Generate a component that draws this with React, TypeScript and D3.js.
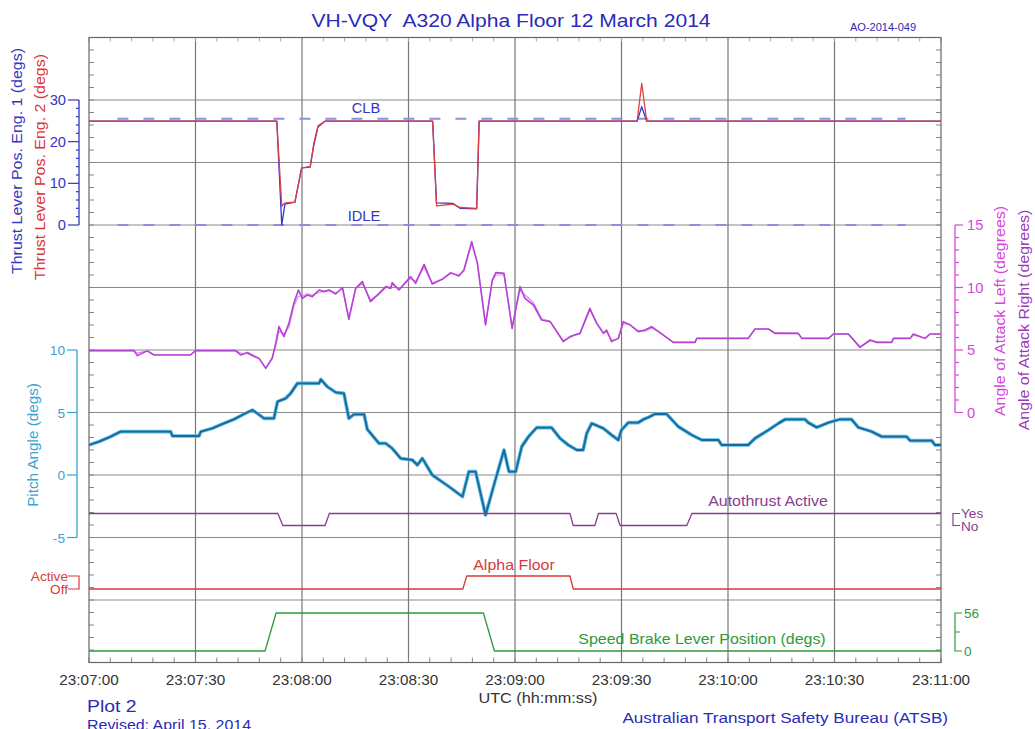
import React, { useRef, useEffect } from "react";
import * as d3 from "d3";

// seconds after 23:07:00
const thrustTime = [0, 52.9, 54.3, 55.2, 58, 59.9, 62.3, 63.3, 64.5, 66.5, 96.8, 97.9, 102.5, 104.5, 109.2, 109.9, 154.4, 155.7, 157.1, 240];
const thrustEng1 = [24.9, 24.9, 0, 5, 5.5, 13.7, 13.9, 19, 23.5, 24.9, 24.9, 5.3, 5.2, 4.0, 3.9, 24.9, 24.9, 28.4, 24.9, 24.9];
const thrustEng2 = [24.9, 24.9, 4.5, 5.3, 5.5, 13.7, 14.0, 19.5, 23.8, 24.9, 24.9, 4.6, 5.0, 4.2, 4.0, 24.9, 24.9, 34, 24.9, 24.9];
const clbLevel = 25.5;
const idleLevel = 0;

const aoaTime = [0, 12.7, 13.6, 16.4, 18.3, 28.6, 30, 41.3, 42.7, 44.6, 46.5, 47.9, 49.8, 51.6, 52.6, 53.5, 54.9, 56.3, 57.7, 59, 60.1, 61.5, 62.9, 64.8, 66.2, 67.6, 69.5, 71.4, 73.2, 75.1, 77, 79.3, 81.7, 83.6, 85, 85.4, 87.3, 90.6, 92, 94.4, 96.7, 99.5, 101.9, 104.2, 105.6, 107.8, 109.4, 111.7, 113.6, 114.6, 116.9, 119.2, 121.4, 122.8, 125.2, 127.5, 129.9, 133.6, 135.5, 136.9, 138.3, 141.1, 143, 144.9, 145.8, 147.2, 149.1, 150.5, 152.4, 154.7, 156.6, 158.5, 160.4, 164.6, 170.7, 171.2, 180.1, 185.7, 187.6, 191.4, 193.2, 199.8, 200.8, 208.3, 209.7, 213.9, 217.2, 220, 221.9, 226.1, 226.6, 231.3, 232.2, 235.5, 236.9, 240];
const aoaLeft = [4.95, 4.95, 4.55, 4.93, 4.6, 4.6, 4.95, 4.95, 4.6, 4.8, 4.52, 4.33, 3.53, 4.33, 5.53, 6.87, 6.07, 7.13, 8.73, 9.8, 9.13, 9.4, 9.27, 9.8, 9.67, 9.8, 9.48, 10.0, 7.45, 9.93, 10.47, 8.87, 9.53, 10.07, 9.93, 10.39, 9.8, 10.87, 10.33, 11.85, 10.28, 10.65, 11.19, 10.92, 11.4, 13.67, 11.93, 7.0, 10.6, 11.19, 11.13, 6.73, 10.07, 9.13, 8.6, 7.4, 7.27, 5.67, 6.07, 6.2, 6.33, 8.33, 7.13, 6.33, 6.6, 5.67, 5.93, 7.27, 7.0, 6.47, 6.6, 6.87, 6.47, 5.61, 5.61, 5.93, 5.93, 5.93, 6.68, 6.68, 6.33, 6.33, 5.93, 5.93, 6.28, 6.28, 5.21, 5.8, 5.61, 5.61, 5.93, 5.93, 6.28, 5.93, 6.28, 6.28];
const aoaRight = [4.95, 4.95, 4.75, 4.93, 4.62, 4.62, 4.95, 4.95, 4.75, 4.7, 4.45, 4.3, 3.6, 4.4, 5.3, 6.5, 6.3, 6.8, 8.5, 9.3, 9.3, 9.5, 9.4, 9.6, 9.7, 9.75, 9.55, 9.9, 7.6, 9.9, 10.3, 9.0, 9.45, 10.0, 10.05, 10.25, 9.9, 10.7, 10.5, 11.6, 10.35, 10.7, 11.1, 11.0, 11.3, 13.5, 12.0, 7.1, 10.5, 11.0, 11.0, 6.9, 9.8, 9.4, 8.8, 7.5, 7.3, 5.75, 6.0, 6.25, 6.3, 8.2, 7.2, 6.4, 6.45, 5.8, 5.9, 7.1, 7.05, 6.55, 6.5, 6.75, 6.5, 5.61, 5.61, 5.93, 5.93, 5.93, 6.68, 6.68, 6.4, 6.33, 5.93, 5.93, 6.28, 6.28, 5.25, 5.75, 5.65, 5.61, 5.93, 5.93, 6.2, 5.93, 6.28, 6.28];

const pitchTime = [0, 2.8, 6.1, 8.9, 23, 23.5, 31, 31.5, 34.7, 38, 40.8, 43.7, 46, 47.4, 49.3, 52.1, 53.1, 55.4, 56.8, 58.7, 64.8, 65.3, 67.1, 69.5, 71.8, 73.2, 74.6, 77.5, 78.4, 81.7, 83.6, 85.4, 87.8, 91.1, 92.5, 93.9, 96.7, 101.4, 105.2, 107, 108.9, 111.7, 114.6, 116.9, 118.3, 120.2, 121.9, 123.8, 126.1, 130.3, 132.7, 135, 137.4, 139.2, 140.2, 141.6, 144.9, 147.2, 149.1, 150, 151.9, 154.7, 156.2, 158, 159.4, 162.7, 166, 169.8, 172.6, 177.3, 178.2, 185.7, 187.6, 191.4, 194.2, 196.1, 201.7, 202.6, 205, 208.3, 211.5, 214.8, 216.7, 220.5, 223.3, 230.3, 231.3, 237.4, 238.3, 240];
const pitchVal = [2.4, 2.67, 3.07, 3.47, 3.47, 3.12, 3.12, 3.47, 3.73, 4.13, 4.45, 4.88, 5.2, 4.93, 4.53, 4.53, 5.87, 6.13, 6.53, 7.33, 7.33, 7.65, 7.07, 6.61, 6.53, 4.53, 4.85, 4.85, 3.65, 2.53, 2.53, 2.13, 1.33, 1.2, 0.8, 1.33, 0, -0.93, -1.73, 0.27, 0.27, -3.2, -0.27, 2.0, 0.27, 0.27, 2.27, 3.07, 3.79, 3.79, 2.93, 2.4, 2.0, 2.0, 3.33, 4.13, 3.73, 3.2, 2.8, 3.6, 4.19, 4.19, 4.45, 4.67, 4.88, 4.88, 3.87, 3.2, 2.8, 2.8, 2.4, 2.4, 2.93, 3.6, 4.13, 4.45, 4.45, 4.19, 3.81, 4.19, 4.45, 4.45, 3.81, 3.47, 3.07, 3.07, 2.75, 2.75, 2.4, 2.4];

// 1 = Yes, 0 = No
const atTime = [0, 53.2, 54.6, 66.5, 67.7, 135.5, 136.4, 142.5, 143.5, 148.5, 149.6, 168.4, 169.8, 240];
const atState = [1, 1, 0, 0, 1, 1, 0, 0, 1, 1, 0, 0, 1, 1];

// 1 = Active, 0 = Off
const afTime = [0, 105.3, 106.4, 135.5, 136.4, 240];
const afState = [0, 0, 1, 1, 0, 0];

const sbTime = [0, 49.6, 52.7, 111.1, 114.2, 240];
const sbVal = [0, 0, 56, 56, 0, 0];

const timeTicks = [0, 30, 60, 90, 120, 150, 180, 210, 240];
const timeLabels = ["23:07:00", "23:07:30", "23:08:00", "23:08:30", "23:09:00", "23:09:30", "23:10:00", "23:10:30", "23:11:00"];
const thrustTicks = [0, 10, 20, 30];
const aoaTicks = [0, 5, 10, 15];
const pitchTicks = [-5, 0, 5, 10];

const FONT = "'Liberation Sans', Arial, sans-serif";

const App = () => {
  const svgRef = useRef<SVGSVGElement>(null);

  useEffect(() => {
    const svg = d3.select(svgRef.current);
    svg.selectAll("*").remove();

    const left = 89, right = 941, top = 37.5, bottom = 662.5;

    const x = d3.scaleLinear().domain([0, 240]).range([left, right]);
    const yGrid = d3.scaleLinear().domain([0, 10]).range([top, bottom]);
    const yThrust = d3.scaleLinear().domain([0, 30]).range([225, 100]);
    const yAoa = d3.scaleLinear().domain([0, 15]).range([412.5, 225]);
    const yPitch = d3.scaleLinear().domain([-5, 10]).range([537.5, 350]);
    const yAt = d3.scaleLinear().domain([0, 1]).range([525.5, 513.5]);
    const yAf = d3.scaleLinear().domain([0, 1]).range([589, 576]);
    const ySb = d3.scaleLinear().domain([0, 56]).range([651, 613]);

    svg.append("rect").attr("width", 1035).attr("height", 729).attr("fill", "#fff");

    // grid
    const grid = svg.append("g");
    d3.range(1, 10).forEach((i) => {
      grid.append("line").attr("x1", left).attr("x2", right)
        .attr("y1", yGrid(i)).attr("y2", yGrid(i))
        .attr("stroke", "#8a8a8a").attr("stroke-width", 1.2);
    });
    timeTicks.slice(1, -1).forEach((t) => {
      grid.append("line").attr("x1", x(t)).attr("x2", x(t))
        .attr("y1", top).attr("y2", bottom)
        .attr("stroke", "#777").attr("stroke-width", 1.2);
    });

    // frame minor ticks
    d3.range(0, 241, 6).forEach((t) => {
      grid.append("line").attr("x1", x(t)).attr("x2", x(t)).attr("y1", bottom).attr("y2", bottom - 5).attr("stroke", "#888");
      grid.append("line").attr("x1", x(t)).attr("x2", x(t)).attr("y1", top).attr("y2", top + 4).attr("stroke", "#aaa");
    });
    d3.range(0, 10.01, 0.2).forEach((g) => {
      grid.append("line").attr("x1", left).attr("x2", left + 5).attr("y1", yGrid(g)).attr("y2", yGrid(g)).attr("stroke", "#888");
      grid.append("line").attr("x1", right).attr("x2", right - 5).attr("y1", yGrid(g)).attr("y2", yGrid(g)).attr("stroke", "#888");
    });
    grid.append("rect").attr("x", left).attr("y", top).attr("width", right - left).attr("height", bottom - top)
      .attr("fill", "none").attr("stroke", "#666").attr("stroke-width", 1.2);

    const plot = (tArr: number[], vArr: number[], yS: any, color: string, w: number) => {
      const line = d3.line<number>().x((_, i) => x(tArr[i])).y((d) => yS(d));
      svg.append("path").attr("d", line(vArr)).attr("fill", "none")
        .attr("stroke", color).attr("stroke-width", w).attr("stroke-linejoin", "round");
    };

    // CLB / IDLE reference dashes
    [clbLevel, idleLevel].forEach((lv) => {
      svg.append("line").attr("x1", x(8)).attr("x2", x(230)).attr("y1", yThrust(lv)).attr("y2", yThrust(lv))
        .attr("stroke", "#8f8fe0").attr("stroke-width", 1.8).attr("stroke-dasharray", "11,15");
    });

    // thrust
    plot(thrustTime, thrustEng1, yThrust, "#3434d0", 1.3);
    plot(thrustTime, thrustEng2, yThrust, "#e04040", 1.3);

    // angle of attack
    plot(aoaTime, aoaRight, yAoa, "#e488f2", 1.2);
    plot(aoaTime, aoaLeft, yAoa, "#b442d2", 1.6);

    // pitch
    plot(pitchTime, pitchVal, yPitch, "#5ab8e2", 3.6);
    plot(pitchTime, pitchVal, yPitch, "#17699c", 1.8);

    // discrete traces
    plot(atTime, atState, yAt, "#8a3d8f", 1.3);
    plot(afTime, afState, yAf, "#d63a3a", 1.3);
    plot(sbTime, sbVal, ySb, "#2c9a3c", 1.3);

    // text, stretched a little along its baseline to match the reference lettering
    const text = (s: string, tx: number, ty: number, color: string, size: number, anchor = "start", rot = 0, sx = 1.14) => {
      return svg.append("text").attr("x", 0).attr("y", 0).attr("fill", color)
        .attr("font-size", size).attr("font-family", FONT).attr("text-anchor", anchor)
        .attr("transform", `translate(${tx},${ty}) rotate(${rot}) scale(${sx},1)`)
        .style("white-space", "pre").text(s);
    };

    // thrust axis (left)
    const blue = "#3535c0";
    svg.append("line").attr("x1", 79).attr("x2", 79).attr("y1", yThrust(30)).attr("y2", yThrust(0)).attr("stroke", blue).attr("stroke-width", 1.3);
    d3.range(0, 31, 2).forEach((v) => {
      const major = v % 10 === 0;
      svg.append("line").attr("x1", major ? 68 : 76).attr("x2", 79).attr("y1", yThrust(v)).attr("y2", yThrust(v)).attr("stroke", blue).attr("stroke-width", 1.2);
    });
    thrustTicks.forEach((v) => text(String(v), 66, yThrust(v) + 5, blue, 14, "end", 0, 1.05));
    text("Thrust Lever Pos. Eng. 1 (degs)", 22, 161, blue, 14, "middle", -90);
    text("Thrust Lever Pos. Eng. 2 (degs)", 45, 167, "#dd3333", 14, "middle", -90);

    // pitch axis (left)
    const pBlue = "#3aa3d3";
    svg.append("line").attr("x1", 77).attr("x2", 77).attr("y1", yPitch(10)).attr("y2", yPitch(-5)).attr("stroke", pBlue).attr("stroke-width", 1.3);
    pitchTicks.forEach((v) => {
      svg.append("line").attr("x1", 67).attr("x2", 77).attr("y1", yPitch(v)).attr("y2", yPitch(v)).attr("stroke", pBlue).attr("stroke-width", 1.2);
      text(String(v), 65, yPitch(v) + 5, pBlue, 13, "end", 0, 1.05);
    });
    text("Pitch Angle (degs)", 38, 445, pBlue, 14, "middle", -90, 1.09);

    // AOA axis (right)
    const mag = "#d546dc";
    svg.append("line").attr("x1", 955).attr("x2", 955).attr("y1", yAoa(15)).attr("y2", yAoa(0)).attr("stroke", mag).attr("stroke-width", 1.3);
    d3.range(0, 16).forEach((v) => {
      const major = v % 5 === 0;
      svg.append("line").attr("x1", 955).attr("x2", major ? 963 : 959).attr("y1", yAoa(v)).attr("y2", yAoa(v)).attr("stroke", mag).attr("stroke-width", 1.2);
    });
    aoaTicks.forEach((v) => text(String(v), 967, yAoa(v) + 5, mag, 14, "start", 0, 1.05));
    text("Angle of Attack Left (degrees)", 1005, 311, mag, 14, "middle", -90);
    text("Angle of Attack Right (degrees)", 1029, 320, "#9a3ab8", 14, "middle", -90);

    // autothrust bracket
    const purp = "#8a3d8f";
    svg.append("path").attr("d", `M960,${yAt(1)}H953V${yAt(0)}H960`).attr("fill", "none").attr("stroke", purp).attr("stroke-width", 1.2);
    text("Yes", 961, yAt(1) + 4, purp, 13, "start", 0, 1.05);
    text("No", 961, yAt(0) + 5, purp, 13, "start", 0, 1.05);
    text("Autothrust Active", 768, 506, purp, 14, "middle");

    // alpha floor bracket
    const red = "#d63a3a";
    svg.append("path").attr("d", `M68,${yAf(1)}H79V${yAf(0)}H68`).attr("fill", "none").attr("stroke", red).attr("stroke-width", 1.2);
    text("Active", 68, yAf(1) + 5, red, 13, "end", 0, 1.05);
    text("Off", 68, yAf(0) + 5, red, 13, "end", 0, 1.05);
    text("Alpha Floor", 514, 570, red, 14, "middle");

    // speed brake bracket
    const green = "#2c9a3c";
    svg.append("path").attr("d", `M962,${ySb(56)}H955V${ySb(0)}H962M955,${ySb(28)}H960`).attr("fill", "none").attr("stroke", green).attr("stroke-width", 1.2);
    text("56", 964, ySb(56) + 5, green, 13, "start", 0, 1.05);
    text("0", 964, ySb(0) + 5, green, 13, "start", 0, 1.05);
    text("Speed Brake Lever Position (degs)", 702, 644, green, 14, "middle");

    // CLB / IDLE labels
    text("CLB", 366, 113, "#3535c0", 14, "middle", 0, 1.05);
    text("IDLE", 364, 221, "#3535c0", 14, "middle", 0, 1.05);

    // time axis labels
    timeTicks.forEach((t, i) => text(timeLabels[i], x(t), 685, "#333", 14, "middle", 0, 1.09));
    text("UTC (hh:mm:ss)", 538, 703, "#333", 14, "middle", 0, 1.16);

    // titles and footers
    text("VH-VQY  A320 Alpha Floor 12 March 2014", 511, 27, "#2a2ab8", 18.5, "middle");
    text("AO-2014-049", 883, 31, "#2a2ab8", 11, "middle", 0, 1.0);
    text("Plot 2", 87, 712, "#2a2ab8", 17, "start");
    text("Revised: April 15, 2014", 87, 730, "#2a2ab8", 14, "start");
    text("Australian Transport Safety Bureau (ATSB)", 948, 723, "#2a2ab8", 15, "end");
  }, []);

  return (
    <svg ref={svgRef} width={1035} height={729}
      style={{ position: "absolute", left: 0, top: 0, display: "block" }} />
  );
};

export default App;
